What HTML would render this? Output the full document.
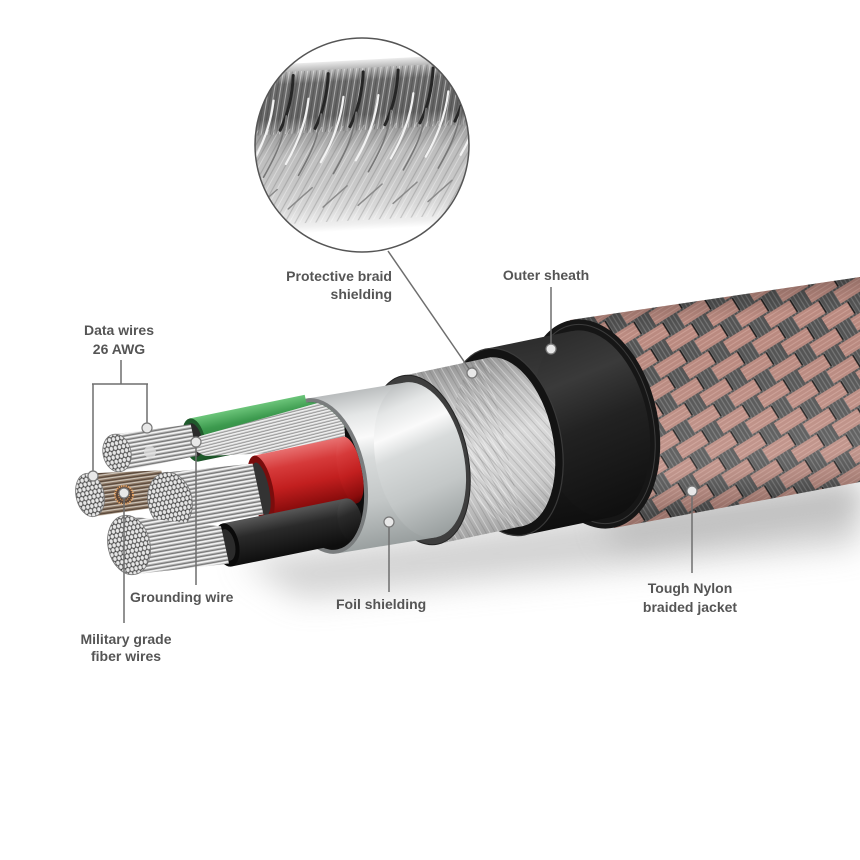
<!DOCTYPE html>
<html><head><meta charset="utf-8"><style>
html,body{margin:0;padding:0;background:#fff;}
svg{display:block}
text{font-family:"Liberation Sans",Arial,sans-serif;font-weight:bold;font-size:14px;fill:#555}
</style></head><body>
<svg width="860" height="860" viewBox="0 0 860 860" xmlns="http://www.w3.org/2000/svg">
<defs>
  <filter id="blur" x="-30%" y="-80%" width="160%" height="260%"><feGaussianBlur stdDeviation="16"/></filter>
  <pattern id="braid" width="48" height="32" patternUnits="userSpaceOnUse" patternTransform="rotate(-32)">
    <rect width="48" height="32" fill="#545454"/>
    <path d="M0,2V16M4,0V16M8,0V16M12,0V16M16,0V16M20,0V16M24,0V16M28,0V16M32,0V16M36,0V16M40,0V16M44,0V16M0,16V32M4,16V32M8,16V32M12,16V32M16,16V32M20,16V32M24,16V32M28,16V32M32,16V32M36,16V32M40,16V32M44,16V32" stroke="#777" stroke-width="1.2"/>
    <rect x="0" y="1" width="31" height="14" fill="#bb8b81"/>
    <rect x="24" y="17" width="31" height="14" fill="#bb8b81"/>
    <rect x="-24" y="17" width="31" height="14" fill="#bb8b81"/>
    <path d="M0,4H31M0,8H31M0,12H31M24,20H55M24,24H55M24,28H55M-24,20H7M-24,24H7M-24,28H7" stroke="#cc9f95" stroke-width="1"/>
    <path d="M31,1V15M7,17V31" stroke="#1a1a1a" stroke-width="1.5"/>
  </pattern>
  <linearGradient id="jShade" gradientUnits="userSpaceOnUse" x1="700" y1="292" x2="726" y2="505">
    <stop offset="0" stop-color="#000" stop-opacity="0.25"/>
    <stop offset="0.15" stop-color="#000" stop-opacity="0"/>
    <stop offset="0.55" stop-color="#fff" stop-opacity="0.05"/>
    <stop offset="0.8" stop-color="#fff" stop-opacity="0.1"/>
    <stop offset="1" stop-color="#000" stop-opacity="0.18"/>
  </linearGradient>
  <linearGradient id="shG" gradientUnits="userSpaceOnUse" x1="530" y1="336" x2="566" y2="530">
    <stop offset="0" stop-color="#2c2c2c"/>
    <stop offset="0.25" stop-color="#3a3a3a"/>
    <stop offset="0.5" stop-color="#222"/>
    <stop offset="1" stop-color="#0e0e0e"/>
  </linearGradient>
  <linearGradient id="bsG" gradientUnits="userSpaceOnUse" x1="455" y1="366" x2="482" y2="536">
    <stop offset="0" stop-color="#9a9a9a"/>
    <stop offset="0.2" stop-color="#bdbdbd"/>
    <stop offset="0.45" stop-color="#dadada"/>
    <stop offset="0.75" stop-color="#cbcbcb"/>
    <stop offset="1" stop-color="#a4a4a4"/>
  </linearGradient>
  <pattern id="bst" width="8" height="8" patternUnits="userSpaceOnUse" patternTransform="rotate(60)">
    <path d="M0,2H8" stroke="#fff" stroke-opacity="0.35" stroke-width="1"/>
    <path d="M0,5.5H8" stroke="#555" stroke-opacity="0.22" stroke-width="1"/>
  </pattern>
  <linearGradient id="foilG" gradientUnits="userSpaceOnUse" x1="355" y1="390" x2="387" y2="548">
    <stop offset="0" stop-color="#b9bcbd"/>
    <stop offset="0.15" stop-color="#e4e6e6"/>
    <stop offset="0.3" stop-color="#fafafa"/>
    <stop offset="0.43" stop-color="#d8dbdb"/>
    <stop offset="0.7" stop-color="#c3c7c7"/>
    <stop offset="1" stop-color="#979d9d"/>
  </linearGradient>
  <pattern id="sb" width="4" height="4" patternUnits="userSpaceOnUse" patternTransform="rotate(-10)">
    <rect width="4" height="4" fill="#b4b4b4"/>
    <rect y="0" width="4" height="1.5" fill="#f2f2f2"/>
    <rect y="2.6" width="4" height="0.8" fill="#666"/>
  </pattern>
  <pattern id="gsb" width="4" height="3" patternUnits="userSpaceOnUse" patternTransform="rotate(-14)">
    <rect width="4" height="3" fill="#c6c6c6"/>
    <rect y="0" width="4" height="1.2" fill="#f4f4f4"/>
    <rect y="2.1" width="4" height="0.5" fill="#7a7a7a"/>
  </pattern>
  <pattern id="cb" width="4" height="4" patternUnits="userSpaceOnUse" patternTransform="rotate(-8)">
    <rect width="4" height="4" fill="#86715e"/>
    <rect y="0" width="4" height="1.2" fill="#cfc6bb"/>
    <rect y="2.5" width="4" height="0.8" fill="#4b3c31"/>
  </pattern>
  <pattern id="se" width="5.2" height="9" patternUnits="userSpaceOnUse" patternTransform="scale(0.8 1)">
    <rect width="5.2" height="9" fill="#3c3c3c"/>
    <circle cx="2.6" cy="2.25" r="2.3" fill="#e6e6e6" stroke="#7a7a7a" stroke-width="0.5"/>
    <circle cx="0" cy="6.75" r="2.3" fill="#e6e6e6" stroke="#7a7a7a" stroke-width="0.5"/>
    <circle cx="5.2" cy="6.75" r="2.3" fill="#e6e6e6" stroke="#7a7a7a" stroke-width="0.5"/>
  </pattern>
  <linearGradient id="gG" gradientUnits="userSpaceOnUse" x1="260" y1="404" x2="269" y2="447">
    <stop offset="0" stop-color="#6cc57a"/>
    <stop offset="0.3" stop-color="#3c9a4e"/>
    <stop offset="0.7" stop-color="#2a7a3a"/>
    <stop offset="1" stop-color="#1b4f26"/>
  </linearGradient>
  <linearGradient id="rG" gradientUnits="userSpaceOnUse" x1="300" y1="446" x2="314" y2="513">
    <stop offset="0" stop-color="#e87070"/>
    <stop offset="0.25" stop-color="#d63a3a"/>
    <stop offset="0.55" stop-color="#c21f1f"/>
    <stop offset="0.88" stop-color="#8a0c0c"/>
    <stop offset="1" stop-color="#5a0505"/>
  </linearGradient>
  <linearGradient id="kG" gradientUnits="userSpaceOnUse" x1="285" y1="512" x2="294" y2="555">
    <stop offset="0" stop-color="#555"/>
    <stop offset="0.35" stop-color="#2a2a2a"/>
    <stop offset="1" stop-color="#0d0d0d"/>
  </linearGradient>
  <clipPath id="wireClip">
    <ellipse cx="322" cy="476" rx="40" ry="75" transform="rotate(-12 322 476)"/>
    <polygon points="197,-111 447,1063 0,1063 0,-111"/>
  </clipPath>
  <clipPath id="circClip"><circle cx="362" cy="145" r="107"/></clipPath>
  <linearGradient id="bandG" gradientUnits="userSpaceOnUse" x1="0" y1="60" x2="0" y2="230">
    <stop offset="0" stop-color="#ececec"/>
    <stop offset="0.05" stop-color="#b5b5b5"/>
    <stop offset="0.12" stop-color="#6a6a6a"/>
    <stop offset="0.32" stop-color="#626262"/>
    <stop offset="0.42" stop-color="#a0a0a0"/>
    <stop offset="0.54" stop-color="#bdbdbd"/>
    <stop offset="0.72" stop-color="#c8c8c8"/>
    <stop offset="0.86" stop-color="#d8d8d8"/>
    <stop offset="0.96" stop-color="#efefef"/>
    <stop offset="1" stop-color="#fff"/>
  </linearGradient>
  <pattern id="ib1" width="6" height="40" patternUnits="userSpaceOnUse" patternTransform="rotate(12)">
    <path d="M1,0V40" stroke="#fff" stroke-opacity="0.45" stroke-width="1"/>
    <path d="M4,0V40" stroke="#222" stroke-opacity="0.25" stroke-width="1"/>
  </pattern>
  <pattern id="ib2" width="9" height="9" patternUnits="userSpaceOnUse" patternTransform="rotate(-58)">
    <path d="M0,3H9" stroke="#555" stroke-opacity="0.25" stroke-width="1.2"/>
    <path d="M0,7H9" stroke="#fff" stroke-opacity="0.35" stroke-width="1"/>
  </pattern>
</defs>

<rect width="860" height="860" fill="#fff"/>

<!-- shadow -->
<polygon points="240,560 860,482 860,545 300,598" fill="#b4b4b4" opacity="0.6" filter="url(#blur)"/>
<polygon points="600,520 860,482 860,510 620,545" fill="#9a9a9a" opacity="0.5" filter="url(#blur)"/>

<!-- Jacket -->
<path d="M570,320 L860,277 L860,482 L614,528 Z" fill="url(#braid)"/>
<path d="M570,320 L860,277 L860,482 L614,528 Z" fill="url(#jShade)"/>
<ellipse cx="592" cy="424" rx="66" ry="106" transform="rotate(-12 592 424)" fill="#161616"/>
<ellipse cx="592" cy="424" rx="61" ry="101" transform="rotate(-12 592 424)" fill="none" stroke="#3c3c3c" stroke-width="1"/>

<!-- Outer sheath -->
<g fill="url(#shG)">
  <polygon points="485,349 572,331 612,517 525,535"/>
  <ellipse cx="592" cy="424" rx="56" ry="95" transform="rotate(-12 592 424)"/>
</g>
<ellipse cx="505" cy="442" rx="56" ry="95" transform="rotate(-12 505 442)" fill="#131313" stroke="#3a3a3a" stroke-width="1.2"/>

<!-- Braid shielding -->
<g fill="url(#bsG)">
  <polygon points="402,376 487,358 523,526 438,544"/>
  <ellipse cx="505" cy="442" rx="48" ry="86" transform="rotate(-12 505 442)"/>
</g>
<g fill="url(#bst)">
  <polygon points="402,376 487,358 523,526 438,544"/>
  <ellipse cx="505" cy="442" rx="48" ry="86" transform="rotate(-12 505 442)"/>
</g>
<ellipse cx="420" cy="460" rx="48" ry="86" transform="rotate(-12 420 460)" fill="#3e3e3e" stroke="#242424" stroke-width="1"/>

<!-- Foil -->
<g fill="url(#foilG)">
  <polygon points="305.6,398.7 403.6,382.7 436.4,537.3 338.4,553.3"/>
  <ellipse cx="420" cy="460" rx="44" ry="79" transform="rotate(-12 420 460)"/>
</g>
<ellipse cx="322" cy="476" rx="44" ry="79" transform="rotate(-12 322 476)" fill="#7a7d7e"/>
<ellipse cx="322" cy="476" rx="40" ry="75" transform="rotate(-12 322 476)" fill="#0e0e0e"/>

<!-- Wires -->
<g clip-path="url(#wireClip)">
  <g fill="url(#gG)">
    <polygon points="189.4,418.5 330.4,389.5 339.6,432.5 198.6,461.5"/>
    <ellipse cx="335" cy="411" rx="11" ry="22" transform="rotate(-12 335 411)"/>
  </g>
  <ellipse cx="194" cy="440" rx="11" ry="22" transform="rotate(-12 194 440)" fill="#1f5a2c"/>
  <ellipse cx="194" cy="440" rx="8" ry="17" transform="rotate(-12 194 440)" fill="#2a2a2a"/>
  <path d="M186,446 L200,436 L300,408 L342,396 L346,448 L300,452 L205,456 Z" fill="url(#gsb)"/>
  <polygon points="113,434.4 190.7,424.3 197.3,455.7 121,471.6" fill="url(#sb)"/>
  <ellipse cx="117" cy="453" rx="14" ry="19" transform="rotate(-12 117 453)" fill="url(#se)" stroke="#777" stroke-width="0.8"/>
  <circle cx="150" cy="452" r="6" fill="#ddd" opacity="0.8"/>
  <polygon points="85.4,473.5 161.3,470.4 168.7,505.6 94.6,516.5" fill="url(#cb)"/>
  <ellipse cx="90" cy="495" rx="14" ry="22" transform="rotate(-12 90 495)" fill="url(#se)" stroke="#777" stroke-width="0.8"/>
  <circle cx="124" cy="495" r="9" fill="#5a4436" stroke="#e3a366" stroke-width="2" stroke-dasharray="1.3 1"/>
  <circle cx="124" cy="495" r="5.5" fill="none" stroke="#d99a60" stroke-width="1.2" stroke-dasharray="1 1"/>
  <g fill="url(#rG)">
    <polygon points="253.9,455.7 342.9,436.7 357.1,503.3 268.1,522.3"/>
    <ellipse cx="350" cy="470" rx="12" ry="34" transform="rotate(-12 350 470)"/>
  </g>
  <ellipse cx="261" cy="489" rx="12" ry="34" transform="rotate(-12 261 489)" fill="#7a0d0d"/>
  <ellipse cx="261" cy="489" rx="8" ry="27" transform="rotate(-12 261 489)" fill="#333"/>
  <polygon points="164,472.6 252.6,463.6 263.4,514.4 176,529.4" fill="url(#sb)"/>
  <ellipse cx="170" cy="501" rx="22" ry="29" transform="rotate(-12 170 501)" fill="url(#se)" stroke="#777" stroke-width="0.8"/>
  <g fill="url(#kG)">
    <polygon points="222.4,523.5 345.4,498.5 354.6,541.5 231.6,566.5"/>
    <ellipse cx="350" cy="520" rx="12" ry="22" transform="rotate(-12 350 520)"/>
  </g>
  <ellipse cx="227" cy="545" rx="12" ry="22" transform="rotate(-12 227 545)" fill="#0a0a0a"/>
  <ellipse cx="227" cy="545" rx="8" ry="16" transform="rotate(-12 227 545)" fill="#2b2b2b"/>
  <polygon points="122.8,515.7 221,526.4 229,563.6 135.2,574.3" fill="url(#sb)"/>
  <ellipse cx="129" cy="545" rx="21" ry="30" transform="rotate(-12 129 545)" fill="url(#se)" stroke="#777" stroke-width="0.8"/>
</g>

<!-- Inset circle -->
<g clip-path="url(#circClip)">
  <rect x="250" y="30" width="230" height="230" fill="#fff"/>
  <g transform="rotate(-3 362 145)">
    <rect x="230" y="60" width="270" height="170" fill="url(#bandG)"/>
    <rect x="230" y="68" width="270" height="62" fill="url(#ib1)"/>
    <rect x="230" y="125" width="270" height="95" fill="url(#ib2)"/>
    <g fill="none" stroke-linecap="round">
      <path d="M262,72 C260,92 255,110 246,126 M297,72 C295,92 290,110 281,126 M332,72 C330,92 325,110 316,126 M367,72 C365,92 360,110 351,126 M402,72 C400,92 395,110 386,126 M437,72 C435,92 430,110 421,126 M472,72 C470,92 465,110 456,126" stroke="#262626" stroke-width="3"/>
      <path d="M276,96 C272,120 263,140 250,160 M311,96 C307,120 298,140 285,160 M346,96 C342,120 333,140 320,160 M381,96 C377,120 368,140 355,160 M416,96 C412,120 403,140 390,160 M451,96 C447,120 438,140 425,160 M486,96 C482,120 473,140 460,160" stroke="#f2f2f2" stroke-width="2.2"/>
      <path d="M288,112 C284,135 276,150 262,172 M323,112 C319,135 311,150 297,172 M358,112 C354,135 346,150 332,172 M393,112 C389,135 381,150 367,172 M428,112 C424,135 416,150 402,172 M463,112 C459,135 451,150 437,172" stroke="#777" stroke-width="1.6"/>
      <path d="M250,205 L275,185 M285,205 L310,185 M320,205 L345,185 M355,205 L380,185 M390,205 L415,185 M425,205 L450,185 M460,205 L485,185" stroke="#8a8a8a" stroke-width="1.5"/>
    </g>
  </g>
</g>
<circle cx="362" cy="145" r="107" fill="none" stroke="#555" stroke-width="1.5"/>

<!-- Leader lines -->
<g stroke="#6e6e6e" stroke-width="1.5" fill="none">
  <path d="M121,360 V384 M92,384 H148 M93,384 V471 M147,384 V423"/>
  <path d="M196,447 V585"/>
  <path d="M124,498 V623"/>
  <path d="M389,527 V592"/>
  <path d="M388,251 L472,373"/>
  <path d="M551,287 V344"/>
  <path d="M692,496 V573"/>
</g>
<g fill="#e8e8e8" stroke="#777" stroke-width="1.2">
  <circle cx="93" cy="476" r="5"/>
  <circle cx="147" cy="428" r="5"/>
  <circle cx="196" cy="442" r="5"/>
  <circle cx="124" cy="493" r="5"/>
  <circle cx="389" cy="522" r="5"/>
  <circle cx="472" cy="373" r="5"/>
  <circle cx="551" cy="349" r="5"/>
  <circle cx="692" cy="491" r="5"/>
</g>

<!-- Labels -->
<text x="119" y="335" text-anchor="middle">Data wires</text>
<text x="119" y="354" text-anchor="middle">26 AWG</text>
<text x="392" y="281" text-anchor="end">Protective braid</text>
<text x="392" y="299" text-anchor="end">shielding</text>
<text x="546" y="280" text-anchor="middle">Outer sheath</text>
<text x="130" y="602">Grounding wire</text>
<text x="336" y="609">Foil shielding</text>
<text x="126" y="644" text-anchor="middle">Military grade</text>
<text x="126" y="661" text-anchor="middle">fiber wires</text>
<text x="690" y="593" text-anchor="middle">Tough Nylon</text>
<text x="690" y="612" text-anchor="middle">braided jacket</text>
</svg>
</body></html>
